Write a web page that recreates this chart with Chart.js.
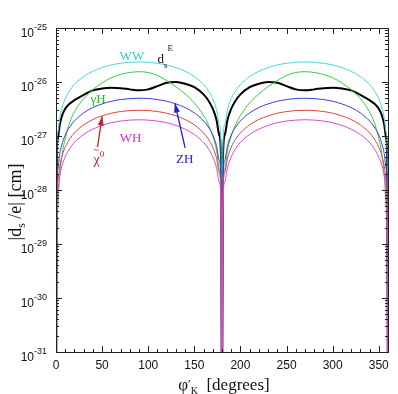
<!DOCTYPE html>
<html lang="en">
<head>
<meta charset="UTF-8">
<title>EDM vs phi</title>
<script src="https://cdn.jsdelivr.net/npm/chart.js"></script>
<style>
  body { margin: 0; background: #fff; }
  #caixa { width: 398px; height: 394px; }
</style>
</head>
<body>
<div id="caixa"><canvas id="grafico_edm"></canvas></div>
<script>
// angle phi'_K in degrees
const phi = [0, 1, 2, 4, 7, 10, 15, 20, 30, 40, 50, 60, 70, 80, 90, 100, 110, 120, 130, 140, 150, 160, 165, 170, 174, 177, 179, 180,
  181, 183, 186, 190, 195, 200, 210, 220, 230, 240, 250, 260, 270, 280, 290, 300, 310, 320, 330, 340, 345, 350, 353, 356, 358, 359, 360];

// |d_s/e| in cm, one array per contribution (1e-33 = falls off the bottom)
const ww = [1e-33, 6.2e-28, 1.15e-27, 2.1e-27, 3.5e-27, 4.9e-27, 7.0e-27, 9.0e-27, 1.26e-26, 1.58e-26, 1.85e-26, 2.07e-26, 2.22e-26, 2.32e-26, 2.35e-26, 2.32e-26, 2.22e-26, 2.07e-26, 1.85e-26, 1.58e-26, 1.26e-26, 9.0e-27, 7.0e-27, 4.9e-27, 3.1e-27, 1.65e-27, 6.2e-28, 1e-33,
  6.2e-28, 1.65e-27, 3.1e-27, 4.9e-27, 7.0e-27, 9.0e-27, 1.26e-26, 1.58e-26, 1.85e-26, 2.07e-26, 2.22e-26, 2.32e-26, 2.35e-26, 2.32e-26, 2.22e-26, 2.07e-26, 1.85e-26, 1.58e-26, 1.26e-26, 9.0e-27, 7.0e-27, 4.9e-27, 3.5e-27, 2.1e-27, 1.15e-27, 6.2e-28, 1e-33];
const gh = [1e-33, 1.5e-29, 5e-29, 1.8e-28, 5e-28, 9e-28, 1.8e-27, 2.8e-27, 4.9e-27, 7.2e-27, 9.6e-27, 1.2e-26, 1.38e-26, 1.5e-26, 1.55e-26, 1.5e-26, 1.32e-26, 1.06e-26, 8.2e-27, 6.0e-27, 4.1e-27, 2.4e-27, 1.65e-27, 1.0e-27, 5.5e-28, 2.4e-28, 7e-29, 1e-33,
  7e-29, 2.4e-28, 5.5e-28, 1.0e-27, 1.65e-27, 2.4e-27, 4.1e-27, 6.0e-27, 8.2e-27, 1.06e-26, 1.32e-26, 1.5e-26, 1.55e-26, 1.5e-26, 1.38e-26, 1.2e-26, 9.6e-27, 7.2e-27, 4.9e-27, 2.8e-27, 1.8e-27, 9e-28, 5e-28, 1.8e-28, 5e-29, 1.5e-29, 1e-33];
const dsE = [1e-33, 5e-28, 9e-28, 1.6e-27, 2.5e-27, 3.2e-27, 4.0e-27, 4.6e-27, 5.8e-27, 7.0e-27, 7.6e-27, 7.8e-27, 7.7e-27, 7.3e-27, 7.0e-27, 7.3e-27, 8.4e-27, 9.7e-27, 1.0e-26, 9.3e-27, 8.0e-27, 5.9e-27, 4.6e-27, 3.2e-27, 2.0e-27, 1.05e-27, 3.8e-28, 1e-33,
  3.8e-28, 1.05e-27, 2.0e-27, 3.2e-27, 4.6e-27, 5.9e-27, 8.0e-27, 9.3e-27, 1.0e-26, 9.7e-27, 8.4e-27, 7.3e-27, 7.0e-27, 7.3e-27, 7.7e-27, 7.8e-27, 7.6e-27, 7.0e-27, 5.8e-27, 4.6e-27, 4.0e-27, 3.2e-27, 2.5e-27, 1.6e-27, 9e-28, 5e-28, 1e-33];
const zh = [1e-33, 1.3e-28, 2.45e-28, 4.6e-28, 7.5e-28, 1.04e-27, 1.48e-27, 1.9e-27, 2.68e-27, 3.36e-27, 3.93e-27, 4.4e-27, 4.73e-27, 4.93e-27, 5.0e-27, 4.95e-27, 4.73e-27, 4.4e-27, 3.93e-27, 3.36e-27, 2.68e-27, 1.9e-27, 1.48e-27, 1.04e-27, 6.6e-28, 3.5e-28, 1.3e-28, 1e-33,
  1.3e-28, 3.5e-28, 6.6e-28, 1.04e-27, 1.48e-27, 1.9e-27, 2.68e-27, 3.36e-27, 3.93e-27, 4.4e-27, 4.73e-27, 4.95e-27, 5.0e-27, 4.93e-27, 4.73e-27, 4.4e-27, 3.93e-27, 3.36e-27, 2.68e-27, 1.9e-27, 1.48e-27, 1.04e-27, 7.5e-28, 4.6e-28, 2.45e-28, 1.3e-28, 1e-33];
const chi0 = [1e-33, 7.9e-29, 1.46e-28, 2.7e-28, 4.5e-28, 6.2e-28, 8.9e-28, 1.14e-27, 1.61e-27, 2.02e-27, 2.36e-27, 2.64e-27, 2.84e-27, 2.96e-27, 3.0e-27, 2.96e-27, 2.84e-27, 2.64e-27, 2.36e-27, 2.02e-27, 1.61e-27, 1.14e-27, 8.9e-28, 6.2e-28, 3.9e-28, 2.1e-28, 7.9e-29, 1e-33,
  7.9e-29, 2.1e-28, 3.9e-28, 6.2e-28, 8.9e-28, 1.14e-27, 1.61e-27, 2.02e-27, 2.36e-27, 2.64e-27, 2.84e-27, 2.96e-27, 3.0e-27, 2.96e-27, 2.84e-27, 2.64e-27, 2.36e-27, 2.02e-27, 1.61e-27, 1.14e-27, 8.9e-28, 6.2e-28, 4.5e-28, 2.7e-28, 1.46e-28, 7.9e-29, 1e-33];
const wh = [1e-33, 5.2e-29, 9.8e-29, 1.82e-28, 3.0e-28, 4.1e-28, 5.9e-28, 7.6e-28, 1.07e-27, 1.34e-27, 1.57e-27, 1.76e-27, 1.89e-27, 1.97e-27, 2.0e-27, 1.97e-27, 1.89e-27, 1.76e-27, 1.57e-27, 1.34e-27, 1.07e-27, 7.6e-28, 5.9e-28, 4.1e-28, 2.6e-28, 1.4e-28, 5.2e-29, 1e-33,
  5.2e-29, 1.4e-28, 2.6e-28, 4.1e-28, 5.9e-28, 7.6e-28, 1.07e-27, 1.34e-27, 1.57e-27, 1.76e-27, 1.89e-27, 1.97e-27, 2.0e-27, 1.97e-27, 1.89e-27, 1.76e-27, 1.57e-27, 1.34e-27, 1.07e-27, 7.6e-28, 5.9e-28, 4.1e-28, 3.0e-28, 1.82e-28, 9.8e-29, 5.2e-29, 1e-33];

// tick labels
const xTicks = [0, 50, 100, 150, 200, 250, 300, 350];
const yExpoentes = [-25, -26, -27, -28, -29, -30, -31];

function pares(ys) {
  return phi.map((p, i) => ({ x: p, y: ys[i] }));
}

function serie(ys, cor, largura) {
  return { data: pares(ys), borderColor: cor, borderWidth: largura, pointRadius: 0, cubicInterpolationMode: 'monotone', fill: false };
}

// text with sub/superscript pieces: [texto, deslocamento_y, tamanho]
function textoComposto(ctx, partes, x, y, familia, cor) {
  let cx = x;
  ctx.fillStyle = cor;
  ctx.textBaseline = 'alphabetic';
  ctx.textAlign = 'left';
  for (const p of partes) {
    ctx.font = p[2] + 'px ' + familia;
    ctx.fillText(p[0], cx, y + p[1]);
    cx += ctx.measureText(p[0]).width;
  }
}
function larguraComposta(ctx, partes, familia) {
  let w = 0;
  for (const p of partes) {
    ctx.font = p[2] + 'px ' + familia;
    w += ctx.measureText(p[0]).width;
  }
  return w;
}

function seta(ctx, x1, y1, x2, y2, cor) {
  ctx.strokeStyle = cor;
  ctx.fillStyle = cor;
  ctx.lineWidth = 1.3;
  ctx.beginPath();
  ctx.moveTo(x1, y1);
  ctx.lineTo(x2, y2);
  ctx.stroke();
  const ang = Math.atan2(y2 - y1, x2 - x1);
  const L = 9, W = 3;
  ctx.beginPath();
  ctx.moveTo(x2, y2);
  ctx.lineTo(x2 - L * Math.cos(ang) + W * Math.sin(ang), y2 - L * Math.sin(ang) - W * Math.cos(ang));
  ctx.lineTo(x2 - L * Math.cos(ang) - W * Math.sin(ang), y2 - L * Math.sin(ang) + W * Math.cos(ang));
  ctx.closePath();
  ctx.fill();
}

const SANS = '"Liberation Sans", Arial, sans-serif';
const SERIF = '"Liberation Serif", "Times New Roman", serif';

const moldura = {
  id: 'moldura',
  afterDraw(chart) {
    const ctx = chart.ctx;
    const a = chart.chartArea;
    const xs = chart.scales.x, ys = chart.scales.y;
    ctx.save();

    // frame
    ctx.strokeStyle = '#222';
    ctx.lineWidth = 1;
    ctx.strokeRect(Math.round(a.left) + 0.5, Math.round(a.top) + 0.5, Math.round(a.right - a.left), Math.round(a.bottom - a.top));

    // x ticks (inside, bottom and top)
    ctx.beginPath();
    for (let v = 0; v <= 360; v += 10) {
      const px = Math.round(xs.getPixelForValue(v)) + 0.5;
      const len = v % 50 === 0 ? 6 : 3;
      ctx.moveTo(px, a.bottom); ctx.lineTo(px, a.bottom - len);
      ctx.moveTo(px, a.top); ctx.lineTo(px, a.top + len);
    }
    // y ticks (inside, left and right)
    for (let e = -31; e <= -26; e++) {
      for (let m = 1; m <= 9; m++) {
        const py = Math.round(ys.getPixelForValue(m * Math.pow(10, e))) + 0.5;
        const len = m === 1 ? 6 : 3;
        ctx.moveTo(a.left, py); ctx.lineTo(a.left + len, py);
        ctx.moveTo(a.right, py); ctx.lineTo(a.right - len, py);
      }
    }
    ctx.stroke();

    // x tick labels
    ctx.fillStyle = '#111';
    ctx.font = '12px ' + SANS;
    ctx.textAlign = 'center';
    ctx.textBaseline = 'middle';
    for (const v of xTicks) {
      ctx.fillText(String(v), xs.getPixelForValue(v), a.bottom + 14);
    }

    // y tick labels 10^n
    for (const e of yExpoentes) {
      const py = ys.getPixelForValue(Math.pow(10, e));
      const partes = [['10', 0, 12], [String(e), -7, 9]];
      const w = larguraComposta(ctx, partes, SANS);
      textoComposto(ctx, partes, a.left - 9 - w, py + 9, SANS, '#111');
    }

    // axis titles
    const tx = [['\u03c6', 0, 17], ['\u2032', -2, 12], ['K', 4, 10], ['  [degrees]', 0, 17]];
    const wx = larguraComposta(ctx, tx, SERIF);
    textoComposto(ctx, tx, (a.left + a.right) / 2 - wx / 2 + 2, a.bottom + 38, SERIF, '#111');

    ctx.save();
    ctx.translate(21, 202);
    ctx.rotate(-Math.PI / 2);
    const ty = [['|d', 0, 18], ['s', 4, 12], [' /e| [cm]', 0, 18]];
    const wy = larguraComposta(ctx, ty, SERIF);
    textoComposto(ctx, ty, -wy / 2, 0, SERIF, '#111');
    ctx.restore();

    // curve labels
    const P = (x, y) => [xs.getPixelForValue(x), ys.getPixelForValue(y)];
    let p = P(82, 3.2e-26);
    textoComposto(ctx, [['WW', 0, 13]], p[0] - 12, p[1] + 5, SERIF, '#33cccc');
    p = P(110, 2.8e-26);
    textoComposto(ctx, [['d', 0, 13], ['s', 5, 9], ['E', -12, 9]], p[0], p[1] + 5, SERIF, '#111');
    p = P(45, 5.0e-27);
    textoComposto(ctx, [['\u03b3H', 0, 13]], p[0] - 7, p[1] + 5, SERIF, '#22bb22');
    p = P(81, 9.5e-28);
    textoComposto(ctx, [['WH', 0, 13]], p[0] - 11, p[1] + 5, SERIF, '#cc33cc');
    p = P(46, 3.9e-28);
    textoComposto(ctx, [['\u03c7', 0, 14], ['0', -7, 9]], p[0] - 5, p[1] + 6, SERIF, '#cc2222');
    textoComposto(ctx, [['~', 0, 11]], p[0] - 5, p[1] - 5, SERIF, '#cc2222');
    p = P(140, 3.9e-28);
    textoComposto(ctx, [['ZH', 0, 13]], p[0] - 9, p[1] + 5, SERIF, '#2222cc');

    let s1 = P(45, 6.2e-28), s2 = P(50, 2.3e-27);
    seta(ctx, s1[0], s1[1], s2[0], s2[1], '#cc2222');
    s1 = P(140, 6.0e-28); s2 = P(129, 4.0e-27);
    seta(ctx, s1[0], s1[1], s2[0], s2[1], '#2222cc');

    ctx.restore();
  }
};

new Chart(document.getElementById('grafico_edm'), {
  type: 'line',
  data: {
    datasets: [
      serie(wh, '#dd44dd', 1),
      serie(chi0, '#e04040', 1),
      serie(zh, '#3a3ae0', 1),
      serie(gh, '#33cc33', 1),
      serie(ww, '#44d8d8', 1),
      serie(dsE, '#000000', 2)
    ]
  },
  options: {
    responsive: true,
    maintainAspectRatio: false,
    animation: false,
    layout: { padding: { left: 56, top: 28, right: 10, bottom: 42 } },
    plugins: { legend: { display: false }, tooltip: { enabled: false } },
    scales: {
      x: { type: 'linear', min: 0, max: 360, display: false },
      y: { type: 'logarithmic', min: 1e-31, max: 1e-25, display: false }
    }
  },
  plugins: [moldura]
});
</script>
</body>
</html>
